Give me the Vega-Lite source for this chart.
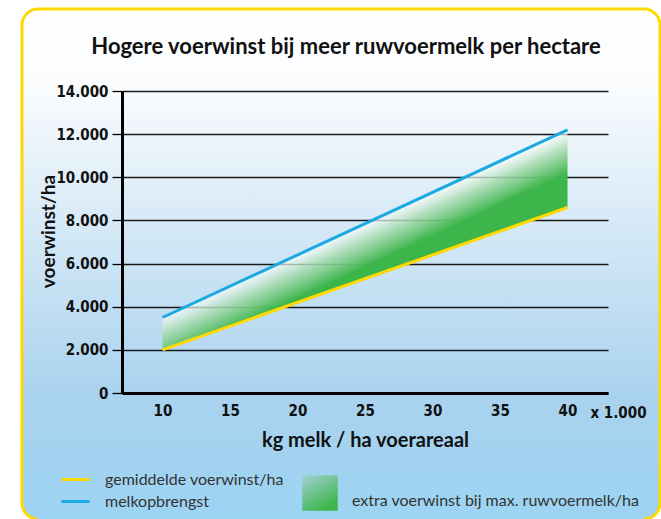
{
  "$schema": "https://vega.github.io/schema/vega-lite/v6.json",
  "width": 638,
  "height": 510,
  "autosize": {"type": "none"},
  "padding": {"left": 22, "top": 9, "right": 1, "bottom": 0},
  "background": "#ffffff",
  "title": {
    "text": "Hogere voerwinst bij meer ruwvoermelk per hectare",
    "font": "Lato",
    "fontSize": 22,
    "fontWeight": "bold",
    "color": "#111111",
    "anchor": "middle",
    "frame": "group",
    "baseline": "alphabetic",
    "offset": -67,
    "dx": 5
  },
  "config": {
    "view": {
      "fill": {
        "gradient": "linear",
        "x1": 0, "y1": 0, "x2": 0, "y2": 1,
        "stops": [
          {"offset": 0, "color": "#ffffff"},
          {"offset": 0.15, "color": "#fafcfe"},
          {"offset": 0.76, "color": "#a9d2ee"},
          {"offset": 1, "color": "#9cd4f3"}
        ]
      },
      "stroke": "#ffd900",
      "strokeWidth": 3,
      "strokeDash": [1134.3, 606, 1000],
      "cornerRadius": 16
    }
  },
  "datasets": {
    "band": [
      {"kg": 10, "laag": 2000, "hoog": 3500, "categorie": "extra voerwinst bij max. ruwvoermelk/ha"},
      {"kg": 40, "laag": 8600, "hoog": 12200, "categorie": "extra voerwinst bij max. ruwvoermelk/ha"}
    ],
    "lijnen": [
      {"kg": 10, "serie": "gemiddelde voerwinst/ha", "waarde": 2000},
      {"kg": 40, "serie": "gemiddelde voerwinst/ha", "waarde": 8600},
      {"kg": 10, "serie": "melkopbrengst", "waarde": 3500},
      {"kg": 40, "serie": "melkopbrengst", "waarde": 12200}
    ]
  },
  "layer": [
    {
      "data": {"name": "band"},
      "mark": {
        "type": "area",
        "fill": {
          "gradient": "linear",
          "x1": 1, "y1": 0, "x2": 1.175, "y2": 0.205,
          "stops": [
            {"offset": 0, "color": "rgba(255,255,255,0.65)"},
            {"offset": 0.22, "color": "rgba(168,219,176,0.85)"},
            {"offset": 0.56, "color": "#3cb54b"},
            {"offset": 1, "color": "#3cb54b"}
          ]
        }
      },
      "encoding": {
        "x": {
          "field": "kg", "type": "quantitative",
          "scale": {"domain": [7, 43], "range": [100, 586], "nice": false, "zero": false},
          "axis": {
            "orient": "bottom",
            "offset": -126,
            "values": [10, 15, 20, 25, 30, 35, 40],
            "grid": false,
            "ticks": false,
            "tickSize": 0,
            "domain": true,
            "domainColor": "#000000",
            "domainWidth": 3,
            "labelFont": "'DejaVu Sans Condensed', 'Liberation Sans', sans-serif",
            "labelFontSize": 15,
            "labelFontWeight": "bold",
            "labelColor": "#111111",
            "labelPadding": 10,
            "title": "kg melk / ha voerareaal",
            "titleFont": "Lato",
            "titleFontSize": 20,
            "titleFontWeight": "bold",
            "titleColor": "#111111",
            "titleY": 47,
            "titleBaseline": "middle"
          }
        },
        "y": {
          "field": "hoog", "type": "quantitative",
          "scale": {"domain": [0, 14000], "range": [384, 82], "nice": false},
          "axis": {
            "orient": "left",
            "offset": -100,
            "values": [0, 2000, 4000, 6000, 8000, 10000, 12000, 14000],
            "labelExpr": "replace(format(datum.value, ','), ',', '.')",
            "grid": true,
            "gridColor": "#1a1a1a",
            "gridWidth": 1.3,
            "gridOpacity": 1,
            "ticks": true,
            "tickSize": 10,
            "tickWidth": 1.3,
            "tickColor": "#000000",
            "domain": true,
            "domainColor": "#000000",
            "domainWidth": 3,
            "labelFont": "'DejaVu Sans Condensed', 'Liberation Sans', sans-serif",
            "labelFontSize": 15,
            "labelFontWeight": "bold",
            "labelColor": "#111111",
            "labelPadding": 4,
            "title": "voerwinst/ha",
            "titleFont": "Lato",
            "titleFontSize": 19,
            "titleFontWeight": "bold",
            "titleColor": "#111111",
            "titleX": -74,
            "titleY": 222,
            "titleAlign": "center",
            "titleBaseline": "middle",
            "titleAngle": 270
          }
        },
        "y2": {"field": "laag"}
      }
    },
    {
      "data": {"name": "lijnen"},
      "mark": {"type": "line", "strokeWidth": 3},
      "encoding": {
        "x": {
          "field": "kg", "type": "quantitative",
          "axis": {
            "orient": "bottom",
            "offset": -126,
            "grid": false,
            "ticks": false,
            "labels": false,
            "domain": false,
            "title": "x 1.000",
            "titleFont": "'DejaVu Sans Condensed', 'Liberation Sans', sans-serif",
            "titleFontSize": 15,
            "titleFontWeight": "bold",
            "titleColor": "#111111",
            "titleX": 596,
            "titleY": 19,
            "titleAlign": "center",
            "titleBaseline": "middle"
          }
        },
        "y": {"field": "waarde", "type": "quantitative"},
        "stroke": {
          "field": "serie", "type": "nominal",
          "scale": {"domain": ["gemiddelde voerwinst/ha", "melkopbrengst"], "range": ["#ffd900", "#1ba9e2"]},
          "legend": {
            "title": null,
            "orient": "none",
            "legendX": 42,
            "legendY": 459,
            "symbolType": "M-1.4,0H1.4",
            "symbolSize": 400,
            "symbolStrokeWidth": 3,
            "rowPadding": 2,
            "labelOffset": 18,
            "labelFont": "Lato",
            "labelFontSize": 16,
            "labelColor": "#333333",
            "labelLimit": 300
          }
        }
      }
    },
    {
      "data": {"name": "band"},
      "mark": {
        "type": "point",
        "filled": true,
        "size": 0,
        "opacity": 1,
        "strokeWidth": 0,
        "fill": {
          "gradient": "linear",
          "x1": 0, "y1": 0, "x2": 0.55, "y2": 1,
          "stops": [
            {"offset": 0, "color": "#a3d1d6"},
            {"offset": 1, "color": "#3db54b"}
          ]
        }
      },
      "encoding": {
        "x": {"field": "kg", "type": "quantitative", "axis": null},
        "y": {"field": "hoog", "type": "quantitative"},
        "shape": {
          "field": "categorie", "type": "nominal",
          "scale": {"range": ["square"]},
          "legend": {
            "title": null,
            "orient": "none",
            "legendX": 280,
            "legendY": 466,
            "symbolSize": 1260,
            "symbolStrokeWidth": 0,
            "labelOffset": 14,
            "labelFont": "Lato",
            "labelFontSize": 16,
            "labelColor": "#333333",
            "labelBaseline": "top",
            "labelLimit": 400
          }
        }
      }
    }
  ],
  "resolve": {"axis": {"x": "independent"}}
}
